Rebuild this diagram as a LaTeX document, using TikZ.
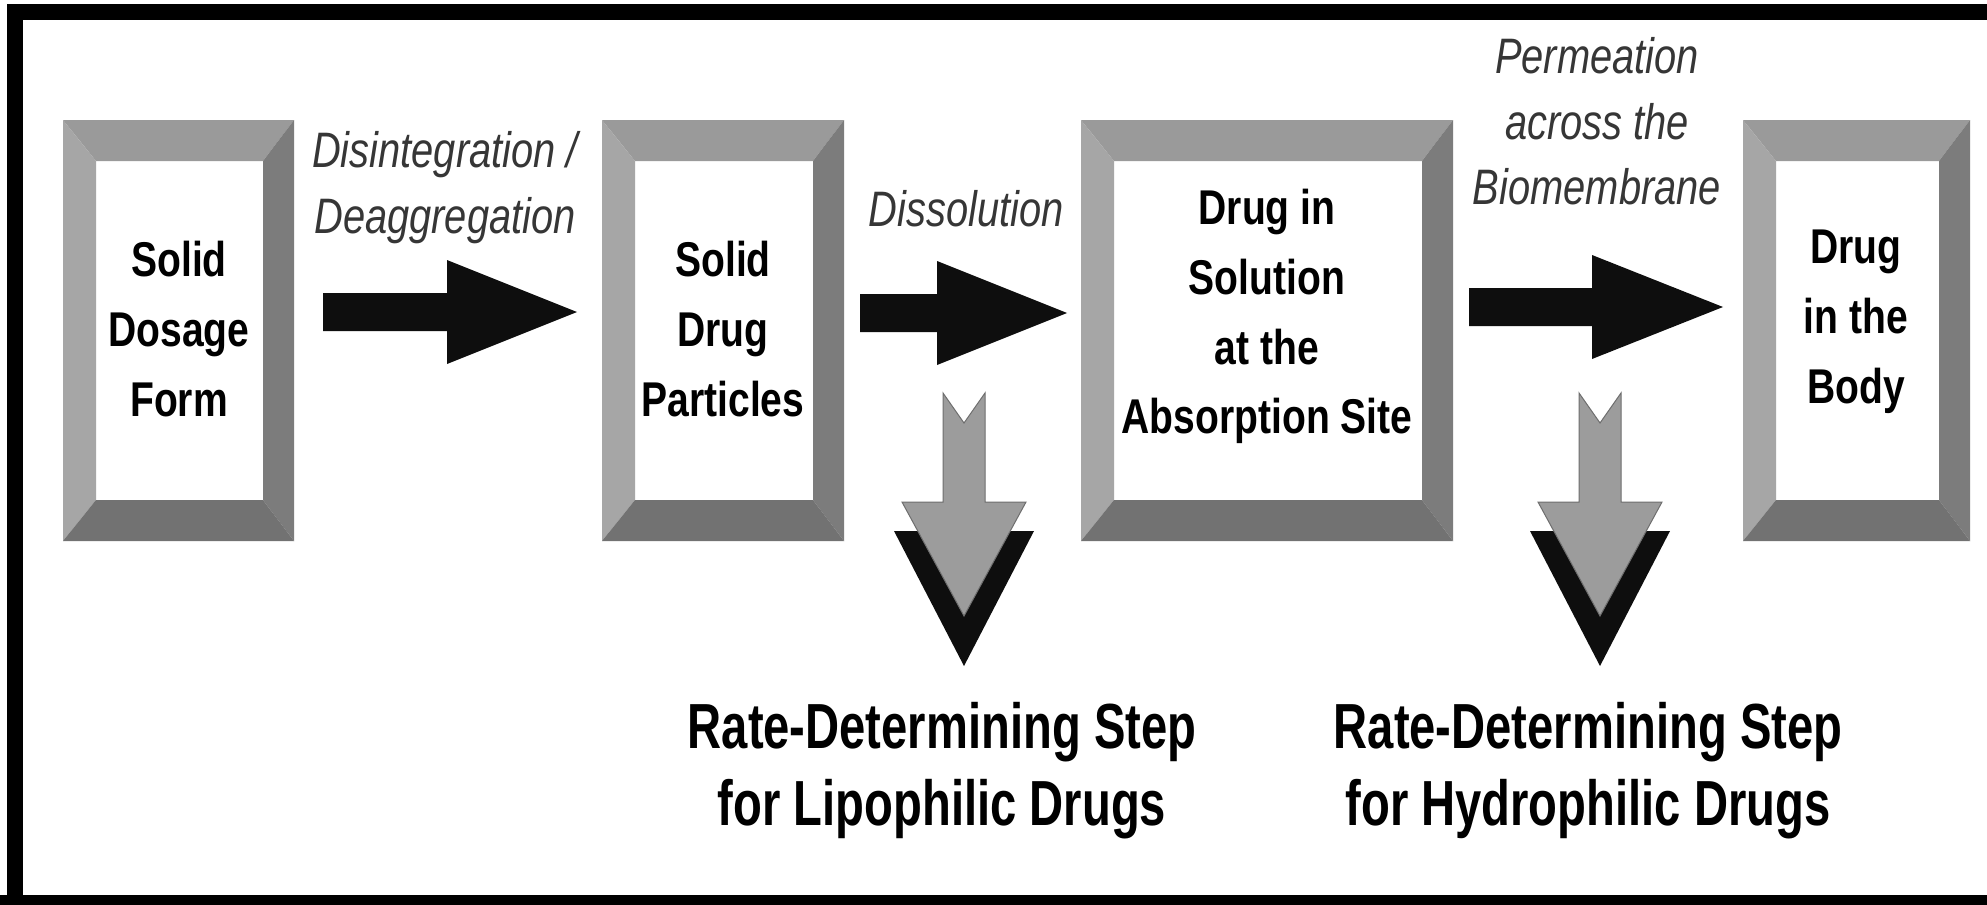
\documentclass[tikz,border=0pt]{standalone}
\usepackage{fontspec}
\newfontfamily\narrowsans{Liberation Sans}[FakeStretch=0.8]
\newfontfamily\ratesans{Liberation Sans}[FakeStretch=0.74]

\definecolor{bevtop}{HTML}{9A9A9A}
\definecolor{bevleft}{HTML}{A6A6A6}
\definecolor{bevright}{HTML}{7C7C7C}
\definecolor{bevbottom}{HTML}{727272}
\definecolor{labelgray}{HTML}{363636}
\definecolor{downgray}{HTML}{9C9C9C}
\definecolor{downedge}{HTML}{6E6E6E}
\definecolor{arrowblack}{HTML}{0E0E0E}

% bevelled frame: x1 y1 x2 y2 (pixels, y downwards)
\newcommand{\bevelbox}[4]{%
  \fill[bevtop] (#1,#2) -- (#3,#2) -- (#3-31,#2+41) -- (#1+33,#2+41) -- cycle;
  \fill[bevleft] (#1,#2) -- (#1+33,#2+41) -- (#1+33,#4-41) -- (#1,#4) -- cycle;
  \fill[bevright] (#3,#2) -- (#3,#4) -- (#3-31,#4-41) -- (#3-31,#2+41) -- cycle;
  \fill[bevbottom] (#1,#4) -- (#3,#4) -- (#3-31,#4-41) -- (#1+33,#4-41) -- cycle;
}
% block arrow: tail x, head base x, tip x, centre y
\newcommand{\fatarrow}[4]{%
  \fill[arrowblack] (#1,#4-19) -- (#2,#4-19) -- (#2,#4-52) -- (#3,#4)
    -- (#2,#4+52) -- (#2,#4+19) -- (#1,#4+19) -- cycle;
}

\tikzset{
  boxlabel/.style={font=\narrowsans\bfseries\fontsize{49}{70}\selectfont,
    align=center, anchor=north, inner sep=0pt},
  steplabel/.style={font=\narrowsans\itshape\fontsize{50}{66}\selectfont,
    text=labelgray, align=center, anchor=north, inner sep=0pt},
  ratelabel/.style={font=\ratesans\bfseries\fontsize{64}{77}\selectfont,
    align=center, anchor=north, inner sep=0pt},
  rdsarrow/.pic={
    \fill[arrowblack] (-70,531) -- (70,531) -- (0,666) -- cycle;
    \filldraw[fill=downgray, draw=downedge, line width=1bp]
      (-21,393) -- (0,423) -- (21,393) -- (21,502) -- (62,502) -- (0,616)
      -- (-62,502) -- (-21,502) -- cycle;
  }
}

\begin{document}
\begin{tikzpicture}[x=1bp, y=-1bp]
  \useasboundingbox (0,0) rectangle (1987,905);
  \fill[white] (0,0) rectangle (1987,905);

  % outer frame
  \draw[line width=16bp] (15,920) -- (15,12) -- (2010,12);
  \fill (0,895) rectangle (1987,910);

  % boxes
  \bevelbox{63}{120}{294}{541}
  \bevelbox{602}{120}{844}{541}
  \bevelbox{1081}{120}{1453}{541}
  \bevelbox{1743}{120}{1970}{541}

  \node[name=sdf, boxlabel] at (179,241) {Solid\\Dosage\\Form};
  \node[name=sdp, boxlabel] at (723,241) {Solid\\Drug\\Particles};
  \node[name=dis, boxlabel] at (1267,189) {Drug in\\Solution\\at the\\Absorption Site};
  \node[name=dib, boxlabel] at (1856,230) {Drug\\in the\\Body};

  % process steps
  \fatarrow{323}{447}{577}{312}
  \fatarrow{860}{937}{1067}{313}
  \fatarrow{1469}{1592}{1723}{307}

  \node[name=deag, steplabel] at (445,131) {Disintegration /\\Deaggregation};
  \node[name=diss, steplabel] at (966,190) {Dissolution};
  \node[name=perm, steplabel] at (1597,37) {Permeation\\across the\\Biomembrane};

  % rate-determining steps
  \pic at (964,0) {rdsarrow};
  \pic at (1600,0) {rdsarrow};

  \node[name=lipo, ratelabel] at (942,702) {Rate-Determining Step\\for Lipophilic Drugs};
  \node[name=hydro, ratelabel] at (1588,702) {Rate-Determining Step\\for Hydrophilic Drugs};
\end{tikzpicture}
\end{document}
